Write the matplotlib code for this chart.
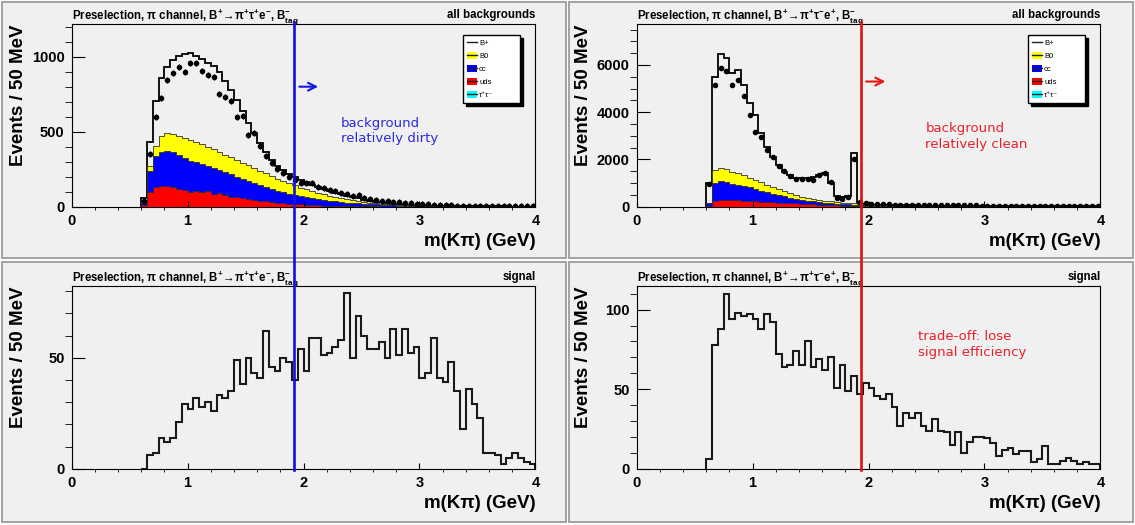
import numpy as np
import matplotlib.pyplot as plt
from matplotlib.patches import Rectangle, Patch
from matplotlib.lines import Line2D
from matplotlib.ticker import MultipleLocator

plt.rcParams.update({
    'font.family': ['Liberation Sans', 'DejaVu Sans'],
    'font.weight': 'bold',
    'axes.labelweight': 'bold',
    'mathtext.fontset': 'custom',
    'mathtext.rm': 'Liberation Sans:bold',
    'mathtext.it': 'Liberation Sans:bold',
    'mathtext.bf': 'Liberation Sans:bold',
    'mathtext.default': 'rm',
    'mathtext.fallback': 'stixsans',
})

# 50 MeV bins from 0.60 to 4.00 GeV (everything below 0.60 is empty)
edges = np.round(np.arange(0.60, 4.0001, 0.05), 2)
centers = 0.5 * (edges[:-1] + edges[1:])

# --- B+ -> pi+ tau+ e- : background components (events / bin)
tl_uds = [10, 100, 130, 135, 135, 130, 120, 110,
          100, 108, 95, 102, 85, 92, 75, 65, 68, 55,
          50, 45, 40, 35, 32, 28, 24, 21, 18, 15,
          13, 11, 9, 8, 7, 6, 5, 4, 4, 3,
          3, 2, 2, 1, 1, 1, 1, 0, 0, 0,
          0, 0, 0, 0, 0, 0, 0, 0, 0, 0,
          0, 0, 0, 0, 0, 0, 0, 0, 0, 0]
tl_cc = [15, 140, 205, 230, 237, 232, 225, 218,
         208, 187, 190, 168, 173, 153, 155, 150, 132, 130,
         120, 112, 103, 95, 86, 79, 73, 67, 61, 56,
         50, 45, 41, 36, 32, 29, 26, 24, 21, 19,
         17, 15, 13, 12, 10, 8, 6, 6, 5, 4,
         3, 2, 2, 1, 1, 1, 1, 1, 0, 0,
         0, 0, 0, 0, 0, 0, 0, 0, 0, 0]
tl_b0 = [5, 30, 70, 105, 118, 126, 125, 132,
         137, 135, 130, 130, 125, 120, 118, 115, 110, 107,
         105, 101, 97, 92, 87, 81, 75, 69, 64, 57,
         52, 47, 42, 38, 34, 30, 26, 22, 19, 16,
         13, 11, 9, 7, 6, 5, 4, 3, 2, 2,
         2, 1, 1, 1, 1, 1, 0, 0, 0, 0,
         0, 0, 0, 0, 0, 0, 0, 0, 0, 0]
tl_bplus = [30, 160, 300, 390, 440, 487, 535, 560,
            577, 578, 570, 560, 552, 530, 492, 450, 400, 343,
            285, 232, 185, 143, 107, 84, 71, 63, 57, 52,
            47, 43, 41, 38, 34, 29, 26, 23, 19, 17,
            14, 12, 10, 9, 8, 7, 6, 5, 5, 4,
            4, 5, 4, 4, 3, 3, 3, 3, 3, 3,
            3, 2, 2, 2, 2, 1, 1, 1, 1, 1]
tl_data = [40, 350, 595, 725, 845, 893, 933, 900,
           955, 960, 905, 878, 862, 752, 728, 705, 596, 602,
           480, 490, 402, 338, 290, 250, 222, 196, 175, 160,
           156, 160, 130, 125, 112, 102, 92, 82, 72, 78,
           60, 52, 46, 40, 38, 34, 32, 28, 22, 20,
           18, 15, 13, 11, 10, 9, 8, 7, 6, 6,
           5, 5, 4, 4, 3, 3, 3, 2, 2, 2]
tl_err = 20

# --- B+ -> pi+ tau- e+ : background components
tr_uds = [40, 250, 290, 290, 280, 270, 255, 240,
          228, 215, 200, 188, 175, 162, 150, 138, 125, 112,
          100, 88, 75, 63, 52, 42, 35, 28, 20, 17,
          15, 13, 12, 10, 9, 8, 7, 6, 6, 5,
          5, 4, 4, 4, 3, 3, 3, 3, 2, 2,
          2, 2, 2, 2, 2, 2, 2, 2, 1, 1,
          1, 1, 1, 1, 1, 1, 1, 1, 1, 1]
tr_cc = [110, 750, 790, 750, 700, 665, 625, 575,
         517, 450, 405, 362, 320, 278, 235, 202, 173, 143,
         126, 110, 95, 82, 75, 71, 65, 57, 40, 32,
         28, 25, 22, 20, 18, 16, 14, 13, 12, 11,
         10, 9, 8, 7, 7, 6, 6, 5, 5, 4,
         4, 4, 4, 4, 3, 3, 3, 3, 3, 3,
         3, 3, 2, 2, 2, 2, 2, 2, 2, 2]
tr_b0 = [20, 560, 570, 550, 510, 485, 460, 420,
         390, 370, 315, 275, 240, 210, 180, 155, 127, 113,
         99, 84, 84, 81, 71, 57, 55, 55, 35, 28,
         25, 22, 20, 18, 16, 14, 13, 12, 11, 10,
         9, 8, 8, 7, 6, 6, 5, 5, 4, 4,
         3, 3, 3, 3, 3, 3, 3, 2, 2, 2,
         2, 2, 2, 2, 2, 2, 2, 2, 2, 2]
tr_bplus = [830, 3940, 4830, 4690, 4190, 4360, 3810, 3145,
            2745, 2065, 1620, 1295, 1035, 830, 775, 705, 775, 832,
            945, 1058, 1186, 764, 268, 225, 311, 2120, 20, 23,
            22, 22, 22, 22, 22, 22, 22, 21, 20, 20,
            19, 20, 19, 19, 19, 18, 18, 17, 18, 18,
            18, 18, 17, 17, 17, 17, 17, 17, 17, 17,
            16, 16, 16, 16, 16, 16, 16, 16, 16, 16]
tr_data = [950, 5150, 5860, 5750, 5150, 5370, 4690, 3880,
           3180, 2960, 2400, 2120, 1740, 1510, 1310, 1170, 1170, 1170,
           1130, 1340, 1440, 1060, 380, 325, 420, 2000, 200, 150,
           120, 110, 100, 95, 90, 85, 80, 75, 72, 70,
           66, 64, 62, 60, 58, 56, 55, 54, 52, 50,
           50, 48, 47, 46, 45, 44, 43, 42, 42, 41,
           40, 40, 39, 38, 38, 37, 36, 36, 35, 35]
tr_err = 60

# --- signal MC
bl_signal = [0, 6, 7, 14, 12, 14, 21, 29,
             27, 32, 28, 30, 26, 33, 32, 35, 49, 38,
             50, 43, 41, 62, 46, 44, 50, 48, 40, 54,
             44, 59, 59, 51, 52, 55, 58, 79, 50, 69,
             60, 54, 54, 57, 50, 63, 51, 63, 52, 55,
             41, 43, 59, 41, 39, 48, 35, 18, 36, 29,
             23, 7, 7, 6, 2, 5, 7, 5, 3, 2]
br_signal = [6, 78, 88, 110, 94, 98, 96, 97,
             94, 88, 97, 92, 72, 64, 65, 74, 65, 80,
             64, 69, 62, 70, 51, 65, 49, 58, 47, 54,
             51, 46, 44, 47, 39, 27, 35, 32, 35, 27,
             24, 31, 24, 23, 15, 23, 10, 17, 20, 20,
             19, 16, 8, 12, 13, 9, 11, 11, 4, 6,
             14, 3, 3, 5, 7, 5, 3, 4, 3, 3]

cut_left, cut_right = 1.915, 1.935
leg_labels = ['B+', 'B0', 'cc', 'uds', 'τ⁺τ⁻']
leg_colors = ['white', '#ffff00', '#0000ff', '#ff0000', '#00ffff']

BLUE_TXT = '#2a2ae0'
RED_TXT = '#e8202c'
PAD_BG = '#f0f0f0'

W, H = 1135, 525
fig = plt.figure(figsize=(W / 100, H / 100), dpi=100)
fig.patch.set_facecolor('#fbfbfb')

# ROOT-like pads
for x0, y0, x1, y1 in [(2, 2, 566, 258), (2, 262, 566, 522),
                       (569, 2, 1133, 258), (569, 262, 1133, 522)]:
    fig.add_artist(Rectangle((x0 / W, 1 - y1 / H), (x1 - x0) / W, (y1 - y0) / H,
                             transform=fig.transFigure, fc=PAD_BG, ec='#9c9c9c',
                             lw=1.3, zorder=-1))


def make_axes(px_left, px_top):
    ax = fig.add_axes([px_left / W, 1 - (px_top + 182.7) / H, 463.8 / W, 182.7 / H])
    ax.patch.set_visible(False)
    ax.set_xlim(0, 4)
    ax.xaxis.set_major_locator(MultipleLocator(1))
    ax.xaxis.set_minor_locator(MultipleLocator(0.2))
    ax.tick_params(direction='in', top=False, right=False, labelsize=10.5, width=0.8)
    ax.tick_params(axis='x', which='major', length=4.5, pad=5)
    ax.tick_params(axis='x', which='minor', length=2.3)
    ax.tick_params(axis='y', which='major', length=9.5, pad=5)
    ax.tick_params(axis='y', which='minor', length=4.8)
    for s in ax.spines.values():
        s.set_linewidth(0.8)
    ax.set_xlabel('m(Kπ) (GeV)', fontsize=13.5, fontweight='bold', ha='right', va='top')
    ax.xaxis.set_label_coords(1.0, -0.145)
    ax.set_ylabel('Events / 50 MeV', fontsize=13.5, fontweight='bold', ha='right')
    ax.yaxis.set_label_coords(-0.097, 1.0)
    return ax


def bold_ticks(ax):
    for lab in ax.get_xticklabels() + ax.get_yticklabels():
        lab.set_fontweight('bold')


def header(ax, decay, tag):
    ax.annotate('Preselection, ' + r'$\pi$' + ' channel, ' + decay + r', B$^{-}_{\rm tag}$',
                xy=(0, 1), xycoords='axes fraction', xytext=(0, 3.5),
                textcoords='offset points', ha='left', va='baseline', fontsize=8.3,
                fontweight='bold')
    ax.annotate(tag, xy=(1, 1), xycoords='axes fraction', xytext=(0, 4.5),
                textcoords='offset points', ha='right', va='baseline', fontsize=8.3,
                fontweight='bold')


def draw_stack(ax, uds, cc, b0, bplus, data, err):
    lvl_uds = np.asarray(uds, float)
    lvl_cc = lvl_uds + np.asarray(cc, float)
    lvl_b0 = lvl_cc + np.asarray(b0, float)
    total = lvl_b0 + np.asarray(bplus, float)
    ax.stairs(total, edges, color='black', lw=1.3)
    for lvl, col in [(lvl_b0, leg_colors[1]), (lvl_cc, leg_colors[2]), (lvl_uds, leg_colors[3])]:
        ax.stairs(lvl, edges, fill=True, facecolor=col, edgecolor='#303030', lw=0.6)
    ax.errorbar(centers, data, yerr=err, fmt='o', ms=3, color='black',
                elinewidth=0.9, capsize=0)
    handles = []
    for col in leg_colors:
        handles.append((Patch(fc=col, ec='none'), Line2D([], [], color='#202020', lw=1)))
    ax.legend(handles, leg_labels, loc='upper left', mode='expand',
              bbox_to_anchor=(0.844, 0.595, 0.123, 0.345), borderaxespad=0,
              fancybox=False, edgecolor='black', facecolor='white', framealpha=1,
              shadow={'color': 'black', 'alpha': 1}, prop={'size': 5.5, 'weight': 'normal'},
              borderpad=0.5, labelspacing=0.62, handlelength=1.3, handleheight=1.1,
              handletextpad=0.3)


ax_tl = make_axes(71.6, 24)
ax_tr = make_axes(636.6, 24)
ax_bl = make_axes(71.6, 286)
ax_br = make_axes(636.6, 286)

draw_stack(ax_tl, tl_uds, tl_cc, tl_b0, tl_bplus, tl_data, tl_err)
draw_stack(ax_tr, tr_uds, tr_cc, tr_b0, tr_bplus, tr_data, tr_err)
ax_bl.stairs(bl_signal, edges, color='#1a1a1a', lw=1.5)
ax_br.stairs(br_signal, edges, color='#1a1a1a', lw=1.5)

ax_tl.set_ylim(0, 1218)
ax_tl.yaxis.set_major_locator(MultipleLocator(500))
ax_tl.yaxis.set_minor_locator(MultipleLocator(100))
ax_tr.set_ylim(0, 7736)
ax_tr.yaxis.set_major_locator(MultipleLocator(2000))
ax_tr.yaxis.set_minor_locator(MultipleLocator(500))
for ax, top in [(ax_bl, 82.3), (ax_br, 114.9)]:
    ax.set_ylim(0, top)
    ax.yaxis.set_major_locator(MultipleLocator(50))
    ax.yaxis.set_minor_locator(MultipleLocator(10))
for ax in (ax_tl, ax_tr, ax_bl, ax_br):
    bold_ticks(ax)

dec_a = r'B$^{+}\!\rightarrow\!\pi^{+}\tau^{+}$e$^{-}$'
dec_b = r'B$^{+}\!\rightarrow\!\pi^{+}\tau^{-}$e$^{+}$'
header(ax_tl, dec_a, 'all backgrounds')
header(ax_tr, dec_b, 'all backgrounds')
header(ax_bl, dec_a, 'signal')
header(ax_br, dec_b, 'signal')

# cut arrows and comments
ax_tl.annotate('', xy=(2.15, 800), xytext=(1.94, 800),
               arrowprops=dict(arrowstyle='->', color='#1515e8', lw=1.5, mutation_scale=14))
ax_tr.annotate('', xy=(2.17, 5300), xytext=(1.955, 5300),
               arrowprops=dict(arrowstyle='->', color='#e81515', lw=1.5, mutation_scale=14))
note = dict(ha='left', va='center', fontsize=9.5, fontweight='normal',
            family='DejaVu Sans', linespacing=1.25)
ax_tl.text(2.32, 506, 'background\nrelatively dirty', color=BLUE_TXT, **note)
ax_tr.text(2.49, 2980, 'background\nrelatively clean', color=RED_TXT, **note)
ax_br.text(2.43, 78, 'trade-off: lose\nsignal efficiency', color=RED_TXT, **note)

# cut lines run through both pads of a column
to_fig = fig.transFigure.inverted()
for top_ax, bot_ax, cut, col in [(ax_tl, ax_bl, cut_left, '#1010e0'),
                                 (ax_tr, ax_br, cut_right, '#e01010')]:
    x_fig = to_fig.transform(top_ax.transData.transform((cut, 0)))[0]
    y_top = top_ax.get_position().y1 + 2 / H
    y_bot = bot_ax.get_position().y0 - 1 / H
    fig.add_artist(Line2D([x_fig, x_fig], [y_bot, y_top], color=col, lw=1.9, zorder=5))

fig.savefig('out.png', dpi=100, facecolor=fig.get_facecolor())
